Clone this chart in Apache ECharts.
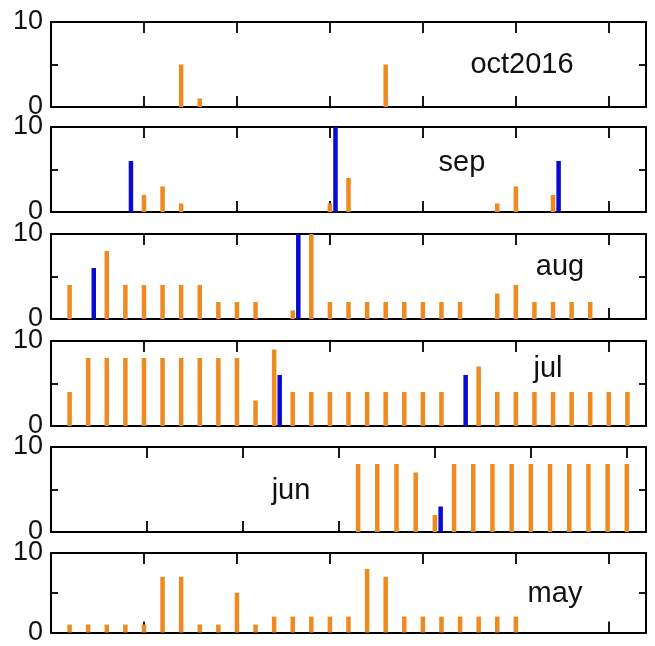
<!DOCTYPE html>
<html>
<head>
<meta charset="utf-8">
<script src="https://cdn.jsdelivr.net/npm/echarts@6/dist/echarts.min.js"></script>
<style>
html,body{margin:0;padding:0;background:#fff;}
#chart{width:655px;height:646px;}
</style>
</head>
<body>
<div id="chart"></div>
<script>
// Panels from top to bottom
const panelNames = ['oct2016', 'sep', 'aug', 'jul', 'jun', 'may'];
const xMaxes = [32, 32, 32, 32, 31, 32];
const yTickLabels = ['0', '10'];

// Orange values by day (index 0 = day 1); null = no bar
const octOrange = [null,null,null,null,null,null,5,1,null,null,null,null,null,null,null,null,null,5,null,null,null,null,null,null,null,null,null,null,null,null,null];
const sepOrange = [null,null,null,null,2,3,1,null,null,null,null,null,null,null,1,4,null,null,null,null,null,null,null,1,3,null,2,null,null,null];
const augOrange = [4,null,8,4,4,4,4,4,2,2,2,null,1,10,2,2,2,2,2,2,2,2,null,3,4,2,2,2,2,null,null];
const julOrange = [4,8,8,8,8,8,8,8,8,8,3,9,4,4,4,4,4,4,4,4,4,null,7,4,4,4,4,4,4,4,4];
const junOrange = [null,null,null,null,null,null,null,null,null,null,null,null,null,null,null,8,8,8,7,2,8,8,8,8,8,8,8,8,8,8];
const mayOrange = [1,1,1,1,1,7,7,1,1,5,1,2,2,2,2,2,8,7,2,2,2,2,2,2,2,null,null,null,null,null,null];

// Blue values by day
const octBlue = [];
const sepBlue = [null,null,null,6,null,null,null,null,null,null,null,null,null,null,10,null,null,null,null,null,null,null,null,null,null,null,6,null,null,null];
const augBlue = [null,6,null,null,null,null,null,null,null,null,null,null,10];
const julBlue = [null,null,null,null,null,null,null,null,null,null,null,6,null,null,null,null,null,null,null,null,null,6];
const junBlue = [null,null,null,null,null,null,null,null,null,null,null,null,null,null,null,null,null,null,null,3];
const mayBlue = [];

const orangeData = [octOrange, sepOrange, augOrange, julOrange, junOrange, mayOrange];
const blueData = [octBlue, sepBlue, augBlue, julBlue, junBlue, mayBlue];

// layout
const gridTops = [22, 127, 234, 341, 447, 553];
const gridHeight = 85;
const gridLeft = 51;
const gridWidth = 595;
const blueShift = 0.3;
const labelPos = [[522, 65], [462, 163], [560, 267], [548, 369], [291, 491], [555, 594]];

const ORANGE = '#EE8A20';
const BLUE = '#0A0AD0';
const FONT = 'Liberation Sans, Arial, sans-serif';

function toPairs(arr) {
  const out = [];
  arr.forEach((v, i) => { if (v !== null && v !== undefined) out.push([i + 1, v]); });
  return out;
}

const grid = [], xAxis = [], yAxis = [], series = [], graphic = [];
const lineStyle = { color: '#000', width: 2 };

for (let i = 0; i < 6; i++) {
  grid.push({ left: gridLeft, top: gridTops[i], width: gridWidth, height: gridHeight, containLabel: false });
  const xBase = {
    type: 'value', gridIndex: i, min: 0, max: xMaxes[i], interval: 5,
    axisLine: { show: true, onZero: false, lineStyle },
    axisTick: { show: true, inside: true, length: 11, lineStyle: { color: '#000', width: 1.8 } },
    axisLabel: { show: false }, splitLine: { show: false }
  };
  xAxis.push(Object.assign({}, xBase, { position: 'bottom' }));
  xAxis.push(Object.assign({}, xBase, { position: 'top' }));
  xAxis.push({ type: 'value', gridIndex: i, min: -blueShift, max: xMaxes[i] - blueShift, show: false });

  const yBase = {
    type: 'value', gridIndex: i, min: 0, max: 10, interval: 5,
    axisLine: { show: true, onZero: false, lineStyle },
    axisTick: { show: true, inside: true, length: 7, lineStyle: { color: '#000', width: 1.8 } },
    splitLine: { show: false }
  };
  yAxis.push(Object.assign({}, yBase, {
    position: 'left',
    axisLabel: {
      show: true, showMinLabel: true, showMaxLabel: true, margin: 8,
      color: '#111', fontSize: 27, fontFamily: FONT, padding: [0, 0, 7, 0],
      formatter: v => (yTickLabels.indexOf(String(v)) >= 0 ? String(v) : '')
    }
  }));
  yAxis.push(Object.assign({}, yBase, { position: 'right', axisLabel: { show: false } }));

  series.push({
    type: 'bar', xAxisIndex: 3 * i, yAxisIndex: 2 * i, barWidth: 4.5,
    itemStyle: { color: ORANGE }, data: toPairs(orangeData[i]), silent: true, animation: false
  });
  series.push({
    type: 'bar', xAxisIndex: 3 * i + 2, yAxisIndex: 2 * i, barWidth: 4.5,
    itemStyle: { color: BLUE }, data: toPairs(blueData[i]), silent: true, animation: false
  });

  graphic.push({
    type: 'text', x: labelPos[i][0], y: labelPos[i][1], z: 10,
    style: { text: panelNames[i], fill: '#111', font: '29px ' + FONT, textAlign: 'center', textVerticalAlign: 'middle' }
  });
}

const chart = echarts.init(document.getElementById('chart'), null, { renderer: 'canvas' });
chart.setOption({ animation: false, backgroundColor: '#fff', grid, xAxis, yAxis, series, graphic });
</script>
</body>
</html>
